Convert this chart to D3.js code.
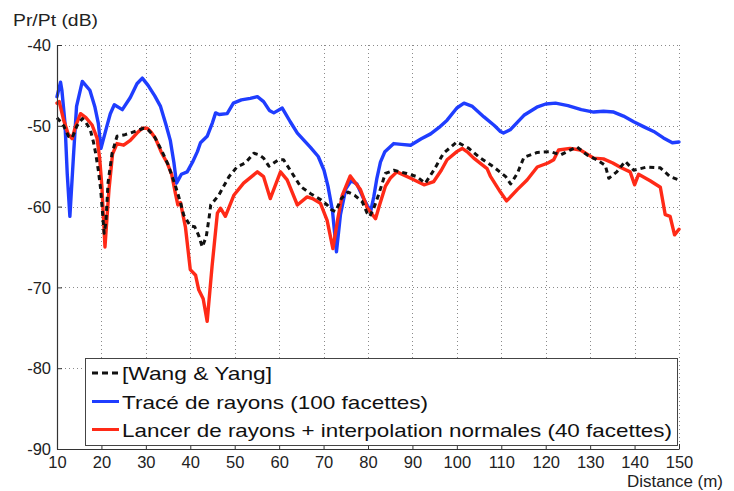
<!DOCTYPE html>
<html>
<head>
<meta charset="utf-8">
<script src="https://cdn.jsdelivr.net/npm/d3@7"></script>
<style>
  html, body { margin: 0; padding: 0; background: #fff; }
  svg { display: block; font-family: "Liberation Sans", Arial, sans-serif; }
</style>
</head>
<body>
<svg id="chart" width="734" height="491"></svg>
<script>
// ---------- DATA ----------
const xTicks = [10, 20, 30, 40, 50, 60, 70, 80, 90, 100, 110, 120, 130, 140, 150];
const yTicks = [-40, -50, -60, -70, -80, -90];
const yLabel = "Pr/Pt (dB)";
const xLabel = "Distance (m)";
const seriesNames = [
  "[Wang & Yang]",
  "Tracé de rayons (100 facettes)",
  "Lancer de rayons + interpolation normales (40 facettes)"
];

// [Wang & Yang] : distance, dB
const wangDist = [10, 10.8, 11.5, 12.6, 13.4, 14.5, 15.7, 16.5, 17.5, 18.2, 18.7, 19.3, 19.8, 20.2, 20.6, 21.0, 21.5, 22.4, 23.5, 25.3, 26.5, 28.0, 29.5, 30.5, 32.0, 33.5, 35.0, 36.7, 37.8, 38.5, 40.0, 41.0, 41.9, 42.7, 43.6, 44.2, 44.6, 46.4, 48.7, 50.5, 52.4, 54.3, 55.5, 56.5, 57.7, 59.9, 61.0, 62.5, 64.8, 67.1, 69.5, 70.8, 71.8, 72.7, 74.0, 75.5, 77.0, 78.7, 79.8, 80.4, 81.3, 82.4, 83.9, 85.8, 88.7, 91.0, 92.9, 94.8, 97.0, 100.0, 102.7, 105.3, 108.3, 111.0, 112.1, 113.6, 115.1, 118.1, 121.1, 123.4, 125.5, 127.0, 129.3, 131.5, 133.4, 134.2, 136.0, 137.9, 139.8, 142.8, 145.8, 148.0, 150.0];
const wangDb = [-49.0, -49.5, -50.0, -51.3, -51.5, -50.0, -49.1, -49.6, -50.5, -52.0, -53.4, -55.5, -57.7, -60.4, -63.3, -62.0, -57.0, -53.4, -51.3, -51.1, -50.9, -50.6, -50.3, -50.5, -51.4, -53.0, -54.8, -57.5, -59.5, -61.0, -62.4, -62.5, -63.6, -65.0, -63.7, -61.5, -59.8, -58.6, -56.3, -55.1, -54.6, -53.4, -53.6, -54.0, -55.0, -54.2, -54.2, -55.5, -57.5, -58.4, -59.2, -59.8, -60.4, -60.6, -59.0, -58.2, -58.6, -59.4, -60.8, -61.2, -60.2, -58.5, -55.9, -55.5, -55.9, -56.3, -57.1, -55.5, -53.4, -52.0, -52.8, -54.0, -55.1, -56.3, -57.2, -55.9, -53.9, -53.3, -53.2, -53.6, -53.0, -52.6, -53.6, -54.2, -54.9, -56.5, -55.7, -54.4, -55.5, -55.1, -55.2, -56.3, -56.7];

// Tracé de rayons (100 facettes)
const traceDist = [10, 10.8, 11.1, 11.8, 12.3, 12.9, 13.7, 14.4, 15.7, 17.4, 18.5, 19.3, 19.9, 21.2, 22.0, 22.9, 24.7, 26.5, 28.0, 29.2, 30.5, 32.0, 33.3, 34.5, 35.5, 36.3, 36.9, 38.0, 39.3, 40.5, 41.6, 42.3, 43.8, 45.0, 45.7, 46.5, 48.3, 49.7, 51.5, 53.5, 55.1, 56.5, 57.8, 58.8, 60.7, 62.5, 64.1, 67.1, 68.8, 70.1, 71.0, 72.0, 72.9, 73.8, 75.0, 76.2, 77.5, 79.0, 80.6, 81.3, 82.0, 82.8, 83.8, 85.8, 87.5, 89.6, 92.0, 94.1, 96.0, 97.8, 100.0, 101.6, 103.5, 106.1, 108.5, 109.8, 110.5, 112.0, 115.1, 118.0, 120.0, 122.2, 125.0, 128.0, 130.8, 133.0, 135.3, 137.5, 139.8, 142.0, 144.3, 146.5, 148.5, 150.0];
const traceDb = [-46.4, -44.6, -45.6, -49.7, -55.9, -61.2, -53.8, -47.6, -44.5, -45.6, -47.6, -49.7, -52.8, -50.1, -48.5, -47.4, -48.0, -46.5, -44.8, -44.1, -45.0, -46.3, -47.6, -49.8, -51.8, -54.5, -57.1, -56.0, -55.7, -54.5, -53.2, -52.1, -51.3, -49.6, -48.4, -48.6, -48.5, -47.2, -46.8, -46.6, -46.4, -47.0, -48.1, -48.4, -47.8, -49.5, -50.9, -52.7, -53.8, -55.5, -57.5, -60.5, -65.6, -61.0, -57.8, -56.8, -57.2, -59.0, -60.6, -58.8, -56.5, -54.5, -53.2, -52.2, -52.3, -52.4, -51.6, -51.0, -50.2, -49.3, -47.8, -47.2, -47.6, -48.9, -50.0, -50.7, -50.9, -50.5, -48.7, -47.7, -47.3, -47.2, -47.5, -48.0, -48.3, -48.2, -48.3, -48.8, -49.5, -50.1, -50.7, -51.5, -52.1, -52.0];

// Lancer de rayons + interpolation normales (40 facettes)
const lancerDist = [10, 10.5, 11.5, 12.5, 13.4, 14.2, 15.3, 16.5, 17.9, 19.0, 19.6, 20.1, 20.8, 21.3, 21.7, 22.5, 23.5, 25.0, 26.5, 28.0, 29.2, 30.3, 31.2, 32.2, 33.5, 34.8, 35.8, 36.7, 37.2, 37.8, 38.9, 40.0, 41.2, 41.9, 42.9, 43.8, 44.9, 46.1, 46.8, 47.9, 49.8, 52.0, 55.1, 56.5, 58.0, 60.3, 61.8, 64.1, 66.3, 67.5, 69.3, 70.8, 72.1, 73.2, 74.2, 76.0, 78.3, 79.8, 81.7, 82.5, 83.9, 85.0, 86.5, 89.6, 92.6, 94.8, 96.5, 97.8, 100.0, 101.2, 102.5, 103.8, 106.8, 107.6, 109.8, 111.2, 113.6, 115.8, 118.1, 120.5, 121.8, 122.9, 125.5, 127.8, 130.8, 133.0, 135.1, 137.0, 139.0, 140.0, 140.9, 143.5, 145.8, 146.9, 148.0, 149.0, 150.0];
const lancerDb = [-47.2, -47.0, -49.3, -51.0, -51.6, -50.0, -48.5, -49.0, -49.9, -51.5, -54.0, -57.5, -65.0, -61.0, -57.9, -53.5, -52.2, -52.4, -51.8, -50.9, -50.3, -50.3, -50.8, -51.6, -53.3, -54.6, -56.0, -58.5, -59.8, -59.5, -62.5, -67.8, -68.5, -70.3, -71.4, -74.2, -67.4, -60.8, -60.2, -61.2, -58.6, -57.1, -55.7, -56.3, -59.0, -55.7, -56.7, -59.8, -58.8, -59.0, -59.6, -61.7, -65.2, -61.5, -58.6, -56.2, -57.9, -60.1, -61.5, -60.0, -57.5, -56.5, -55.7, -56.5, -57.3, -56.9, -55.5, -54.2, -53.2, -52.8, -53.3, -54.0, -55.3, -56.3, -58.2, -59.3, -57.9, -56.7, -55.1, -54.6, -54.2, -53.0, -52.8, -53.0, -54.0, -54.1, -54.6, -55.2, -55.7, -57.3, -56.0, -56.8, -57.6, -61.0, -61.2, -63.5, -62.8];

// ---------- LAYOUT ----------
const svg = d3.select("#chart");
const mLeft = 57, mRight = 679, mTop = 45, mBottom = 449;

const x = d3.scaleLinear().domain([10, 150]).range([mLeft, mRight]);
const y = d3.scaleLinear().domain([-90, -40]).range([mBottom, mTop]);

// grid (dotted)
const grid = svg.append("g").attr("stroke", "#8a8a8a").attr("stroke-width", 1).attr("stroke-dasharray", "1,3");
grid.selectAll("line.vx").data(xTicks.filter(d => d !== 10)).enter().append("line")
  .attr("x1", d => Math.round(x(d)) + 0.5).attr("x2", d => Math.round(x(d)) + 0.5)
  .attr("y1", mTop).attr("y2", mBottom);
grid.selectAll("line.hy").data(yTicks.filter(d => d !== -90)).enter().append("line")
  .attr("y1", d => Math.round(y(d)) + 0.5).attr("y2", d => Math.round(y(d)) + 0.5)
  .attr("x1", mLeft).attr("x2", mRight);

// series
const line = d3.line().x(d => x(d[0])).y(d => y(d[1]));
const zip = (a, b) => a.map((v, i) => [v, b[i]]);

const plot = svg.append("g").attr("fill", "none").attr("stroke-linejoin", "round").attr("stroke-linecap", "round");
plot.append("path").datum(zip(traceDist, traceDb)).attr("d", line)
  .attr("stroke", "#1f3dff").attr("stroke-width", 3.4);
plot.append("path").datum(zip(lancerDist, lancerDb)).attr("d", line)
  .attr("stroke", "#ff2a17").attr("stroke-width", 3.4);
plot.append("path").datum(zip(wangDist, wangDb)).attr("d", line)
  .attr("stroke", "#111").attr("stroke-width", 3).attr("stroke-linecap", "butt")
  .attr("stroke-dasharray", "5,4");

// axes
const fmt = d => String(d);
const xAxis = d3.axisBottom(x).tickValues(xTicks).tickFormat(fmt)
  .tickSizeInner(-5).tickSizeOuter(0).tickPadding(7);
const yAxis = d3.axisLeft(y).tickValues(yTicks).tickFormat(fmt)
  .tickSizeInner(-5).tickSizeOuter(0).tickPadding(6);

const gx = svg.append("g").attr("transform", `translate(0,${mBottom})`).call(xAxis);
const gy = svg.append("g").attr("transform", `translate(${mLeft},0)`).call(yAxis);
[gx, gy].forEach(g => {
  g.select(".domain").attr("stroke", "#333").attr("stroke-width", 1.2);
  g.selectAll(".tick line").attr("stroke", "#333");
  g.selectAll(".tick text").attr("fill", "#222").attr("font-size", 16.5)
    .attr("font-family", "'Liberation Sans', Arial, sans-serif");
});
gy.selectAll(".tick text").attr("dy", "0.34em").attr("textLength", function () {
  return null;
});

// axis labels
svg.append("text").attr("x", 13).attr("y", 26).attr("font-size", 17).attr("fill", "#222")
  .attr("textLength", 85).attr("lengthAdjust", "spacingAndGlyphs").text(yLabel);
svg.append("text").attr("x", 723).attr("y", 487).attr("text-anchor", "end")
  .attr("font-size", 16).attr("fill", "#222")
  .attr("textLength", 96).attr("lengthAdjust", "spacingAndGlyphs").text(xLabel);

// legend
const lg = svg.append("g");
lg.append("rect").attr("x", 85.5).attr("y", 358.5).attr("width", 592).attr("height", 87)
  .attr("fill", "#fff").attr("stroke", "#444").attr("stroke-width", 1);
const rows = [
  { name: seriesNames[0], color: "#111", dash: "6,4", cy: 373, w: 150 },
  { name: seriesNames[1], color: "#1f3dff", dash: null, cy: 401.5, w: 306 },
  { name: seriesNames[2], color: "#ff2a17", dash: null, cy: 429.5, w: 550 }
];
rows.forEach(r => {
  lg.append("line").attr("x1", 92).attr("x2", 119).attr("y1", r.cy).attr("y2", r.cy)
    .attr("stroke", r.color).attr("stroke-width", 3)
    .attr("stroke-dasharray", r.dash);
  lg.append("text").attr("x", 122).attr("y", r.cy + 7).attr("font-size", 19).attr("fill", "#111")
    .attr("textLength", r.w).attr("lengthAdjust", "spacingAndGlyphs").text(r.name);
});
</script>
</body>
</html>
